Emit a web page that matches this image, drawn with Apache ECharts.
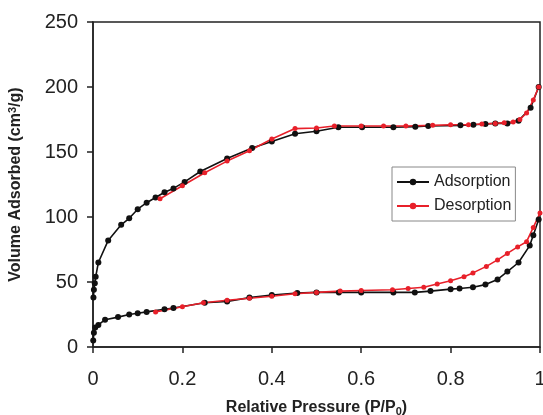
<!DOCTYPE html>
<html>
<head>
<meta charset="utf-8">
<script src="https://cdn.jsdelivr.net/npm/echarts@6/dist/echarts.min.js"></script>
<style>
  html, body { margin: 0; padding: 0; background: #fff; }
  #chart { width: 543px; height: 415px; }
</style>
</head>
<body>
<div id="chart"></div>
<script>
// upper isotherm
var upAdsX = [0.001, 0.002, 0.004, 0.006, 0.012, 0.034, 0.063, 0.081, 0.10, 0.12, 0.14, 0.16, 0.18, 0.205, 0.24, 0.30, 0.356, 0.40, 0.452, 0.50, 0.549, 0.602, 0.672, 0.721, 0.75, 0.822, 0.851, 0.878, 0.90, 0.927, 0.952, 0.979, 0.997];
var upAdsY = [38, 44, 49, 54, 65, 82, 94, 99, 106, 111, 115, 119, 122, 127, 135, 145, 153, 158, 164, 166, 169, 169, 169, 169.5, 170, 170.5, 171, 171.5, 172, 172, 174, 184, 200];
var upDesX = [0.997, 0.985, 0.97, 0.955, 0.94, 0.92, 0.90, 0.87, 0.84, 0.80, 0.76, 0.70, 0.65, 0.60, 0.54, 0.50, 0.452, 0.40, 0.35, 0.30, 0.25, 0.20, 0.15];
var upDesY = [200, 190, 180, 175, 173, 172.5, 172, 171.5, 171, 171, 170.5, 170, 170, 170, 170, 168.5, 168, 160, 151, 143, 134, 124, 114];
// lower isotherm
var lowAdsX = [0.0005, 0.002, 0.005, 0.012, 0.027, 0.056, 0.081, 0.10, 0.12, 0.16, 0.18, 0.25, 0.30, 0.35, 0.40, 0.457, 0.50, 0.55, 0.60, 0.672, 0.72, 0.755, 0.80, 0.82, 0.85, 0.878, 0.905, 0.927, 0.952, 0.977, 0.985, 0.997];
var lowAdsY = [5, 11, 15, 17, 21, 23, 25, 26, 27, 29, 30, 34, 35, 38, 40, 41.5, 42, 42, 42, 42, 42, 43, 44.5, 45, 46, 48, 52, 58, 65, 78, 86, 98];
var lowDesX = [1.0, 0.985, 0.97, 0.95, 0.927, 0.905, 0.88, 0.85, 0.83, 0.80, 0.77, 0.74, 0.705, 0.67, 0.60, 0.553, 0.50, 0.452, 0.40, 0.35, 0.30, 0.247, 0.20, 0.14];
var lowDesY = [103, 92, 81, 77, 72, 67, 62, 57, 54, 51, 48.5, 46, 45, 44, 43.5, 43, 42, 41, 39, 37.5, 36, 34, 31, 27];

var xTicks = ['0', '0.2', '0.4', '0.6', '0.8', '1'];
var yTicks = ['0', '50', '100', '150', '200', '250'];

function pairs(xs, ys) {
    var out = [];
    for (var i = 0; i < xs.length; i++) out.push([xs[i], ys[i]]);
    return out;
}

var ink = '#222';
var font = 'Liberation Sans, Arial, sans-serif';

function makeSeries(name, data, color, size) {
    return {
        name: name,
        type: 'line',
        data: data,
        symbol: 'circle',
        symbolSize: size,
        itemStyle: { color: color },
        lineStyle: { color: color, width: 1.6 },
        animation: false
    };
}

var chart = echarts.init(document.getElementById('chart'));
chart.setOption({
    backgroundColor: '#fff',
    textStyle: { fontFamily: font },
    grid: {
        left: 93, right: 3, top: 22, bottom: 68,
        outerBoundsMode: 'none',
        containLabel: false,
        show: true, borderColor: ink, borderWidth: 1.5
    },
    legend: {
        data: ['Adsorption', 'Desorption'],
        orient: 'vertical',
        left: 392, top: 167,
        padding: [7, 4, 7, 4],
        itemGap: 8,
        itemWidth: 32, itemHeight: 8,
        borderColor: '#888', borderWidth: 1,
        textStyle: { fontSize: 16, color: ink, fontFamily: font }
    },
    xAxis: {
        type: 'value', min: 0, max: 1, interval: 0.2,
        name: 'Relative Pressure (P/P{sub|0})',
        nameLocation: 'middle', nameGap: 52,
        nameTextStyle: {
            fontSize: 16, fontWeight: 'bold', color: ink, fontFamily: font,
            rich: { sub: { fontSize: 11, fontWeight: 'bold', verticalAlign: 'bottom', padding: [7, 0, 0, 0] } }
        },
        axisLine: { lineStyle: { color: ink, width: 1.5 } },
        axisTick: { show: true, inside: false, length: 6, lineStyle: { color: ink, width: 1.5 } },
        axisLabel: {
            fontSize: 20, color: ink, margin: 22,
            formatter: function (v) { return xTicks[Math.round(v / 0.2)]; }
        },
        splitLine: { show: false }
    },
    yAxis: {
        type: 'value', min: 0, max: 250, interval: 50,
        name: 'Volume Adsorbed (cm{sup|3}/g)',
        nameLocation: 'middle', nameGap: 68,
        nameTextStyle: {
            fontSize: 16, fontWeight: 'bold', color: ink, fontFamily: font,
            rich: { sup: { fontSize: 11, fontWeight: 'bold', verticalAlign: 'top', padding: [0, 0, 7, 0] } }
        },
        axisLine: { show: true, lineStyle: { color: ink, width: 1.5 } },
        axisTick: { show: true, inside: false, length: 6, lineStyle: { color: ink, width: 1.5 } },
        axisLabel: {
            fontSize: 20, color: ink, margin: 15,
            formatter: function (v) { return yTicks[Math.round(v / 50)]; }
        },
        splitLine: { show: false }
    },
    series: [
        makeSeries('Adsorption', pairs(upAdsX, upAdsY), '#111', 6),
        makeSeries('Desorption', pairs(upDesX, upDesY), '#e8202a', 5),
        makeSeries('Adsorption', pairs(lowAdsX, lowAdsY), '#111', 6),
        makeSeries('Desorption', pairs(lowDesX, lowDesY), '#e8202a', 5)
    ]
});
</script>
</body>
</html>
